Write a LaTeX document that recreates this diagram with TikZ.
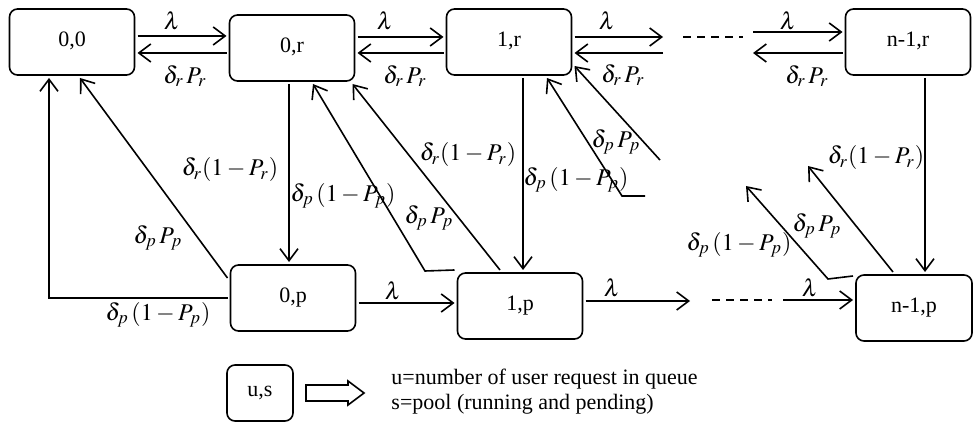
\documentclass[tikz,border=0pt]{standalone}
\usepackage{mathptmx}
\usepackage[no-math]{fontspec}
\setmainfont{Liberation Serif}
\usepackage{tikz}
\usetikzlibrary{arrows.meta}

\begin{document}
\begin{tikzpicture}[x=0.5pt, y=-0.5pt, line width=0.8pt]

\tikzstyle{every node} = [font=\fontsize{11}{12.5}\selectfont]
\tikzstyle{state} = [draw, rectangle, rounded corners=4pt, minimum width=62.5pt, minimum height=33pt, outer sep=1.5pt]
\tikzstyle{lbl} = [inner sep=0pt, font=\fontsize{12}{14}\selectfont]
\tikzstyle{trans} = [-{Straight Barb[length=6pt,width=9pt]}]
\tikzstyle{dots} = [dash pattern=on 4pt off 3pt]

\useasboundingbox (0,0) rectangle (975,422);

\node[state] (a) at (72,42) {\raisebox{2.5pt}{0,0}};
\node[state] (b) at (292,48) {\raisebox{2.5pt}{0,r}};
\node[state] (c) at (509,42) {\raisebox{2.5pt}{1,r}};
\node[state] (d) at (908,42) {\raisebox{2.5pt}{n-1,r}};

\node[state] (e) at (293,298) {\raisebox{2.5pt}{0,p}};
\node[state] (f) at (520,306) {\raisebox{2.5pt}{1,p}};
\node[state, minimum width=58pt] (g) at (914,308) {\raisebox{2.5pt}{n-1,p}};

\node[state, minimum width=33pt, minimum height=28pt] (k) at (260,393) {u,s};
\draw (306,385) -- (348,385) -- (348,381) -- (364,393) -- (348,405) -- (348,401) -- (306,401) -- cycle;
\node[anchor=west, align=left] (n) at (384,392) {u=number of user request in queue\\s=pool (running and pending)};

\coordinate (c1) at (663,37);
\coordinate (c2) at (663,53);
\coordinate (c3) at (683,37);
\coordinate (c4) at (743,37);
\coordinate (c5) at (753,32);
\coordinate (c6) at (753,53);

\coordinate (p1) at (425,271);
\coordinate (q1) at (645,196);
\coordinate (q2) at (622,196);
\coordinate (q3) at (660,160);
\coordinate (r1) at (808,166);
\coordinate (r2) at (828,279);
\coordinate (r3) at (746,186);

\coordinate (s1) at (690,301);
\coordinate (s2) at (712,300);
\coordinate (s3) at (772,300);
\coordinate (s4) at (783,300);

\draw[trans] ([yshift=3pt]a.east) -- ([yshift=3pt]a.east -| b.west);
\draw[trans] ([yshift=-2.5pt]b.west) -- ([yshift=-2.5pt]b.west -| a.east);
\draw[trans] ([yshift=2.5pt]c.west -| b.east) -- ([yshift=2.5pt]c.west);
\draw[trans] ([yshift=-5.5pt]c.west) -- ([yshift=-5.5pt]c.west -| b.east);
\draw[trans] ([yshift=2.5pt]c.east) -- (c1);
\draw[trans] (c2) -- ([yshift=-5.5pt]c.east);
\draw[dots] (c3) -- (c4);
\draw[trans] (c5) -- ([yshift=5pt]d.west);
\draw[trans] ([yshift=-5.5pt]d.west) -- (c6);

\draw[trans] ([xshift=-1.5pt]b.south) -- ([xshift=-1.5pt]b.south |- e.north);
\draw[trans] ([xshift=7pt]c.south) -- ([xshift=7pt]c.south |- f.north);
\draw[trans] ([xshift=8.5pt]d.south) -- ([xshift=8.5pt]d.south |- g.north);

\draw[trans] (e.west) -| ([xshift=-11.5pt]a.south);
\draw[trans] ([yshift=-8pt]e.north west) -- ([xshift=4pt]a.south);
\draw[trans] (f.north west) -- (p1) -- ([xshift=10.5pt]b.south);
\draw[trans] ([xshift=-10pt]f.north) -- ([xshift=-2.5pt]b.south east);
\draw[trans] (q1) -- (q2) -- ([xshift=19pt]c.south);
\draw[trans] (q3) -- ([yshift=-12pt]c.east);
\draw[trans] ([xshift=-10.5pt]g.north) -- (r1);
\draw[trans] ([yshift=-2pt]g.north west) -- (r2) -- (r3);

\draw[trans] ([yshift=-2.5pt]e.east) -- ([yshift=-2.5pt]e.east -| f.west);
\draw[trans] ([yshift=2.5pt]f.east) -- (s1);
\draw[dots] (s2) -- (s3);
\draw[trans] (s4) -- ([yshift=4pt]g.west);

\node[lbl] (l1) at (172,21) {$\lambda$};
\node[lbl] (l2) at (185,76) {$\delta_r\,P_r$};
\node[lbl] (l3) at (385,21) {$\lambda$};
\node[lbl] (l4) at (405,76) {$\delta_r\,P_r$};
\node[lbl] (l5) at (607,21) {$\lambda$};
\node[lbl] (l6) at (623,75) {$\delta_r\,P_r$};
\node[lbl] (l7) at (788,21) {$\lambda$};
\node[lbl] (l8) at (807,76) {$\delta_r\,P_r$};
\node[lbl] (l9) at (230,170) {$\delta_r(1-P_r)$};
\node[lbl] (l10) at (343,196) {$\delta_p\,(1-P_p)$};
\node[lbl] (l11) at (429,218) {$\delta_p\,P_p$};
\node[lbl] (l12) at (468,155) {$\delta_r(1-P_r)$};
\node[lbl] (l13) at (616,142) {$\delta_p\,P_p$};
\node[lbl] (l14) at (576,180) {$\delta_p\,(1-P_p)$};
\node[lbl] (l15) at (876,158) {$\delta_r(1-P_r)$};
\node[lbl] (l16) at (817,226) {$\delta_p\,P_p$};
\node[lbl] (l17) at (739,245) {$\delta_p\,(1-P_p)$};
\node[lbl] (l18) at (158,238) {$\delta_p\,P_p$};
\node[lbl] (l19) at (158,315) {$\delta_p\,(1-P_p)$};
\node[lbl] (l20) at (393,291) {$\lambda$};
\node[lbl] (l21) at (612,288) {$\lambda$};
\node[lbl] (l22) at (810,288) {$\lambda$};

\end{tikzpicture}
\end{document}
